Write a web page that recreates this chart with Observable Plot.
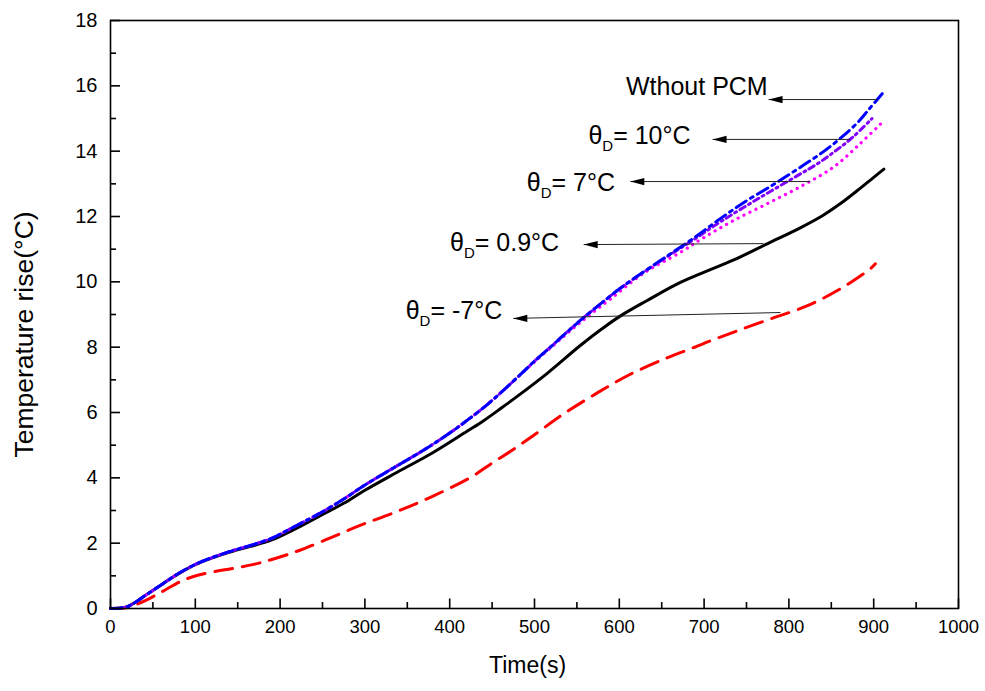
<!DOCTYPE html>
<html><head><meta charset="utf-8">
<script src="https://cdn.jsdelivr.net/npm/d3@7"></script>
<script src="https://cdn.jsdelivr.net/npm/@observablehq/plot@0.6"></script>
<style>body{margin:0;background:#fff;}</style>
</head><body><div id="chart"></div>
<script>
// ---- tick values ----
const xTicks = [0,100,200,300,400,500,600,700,800,900,1000];
const xMinor = [50,150,250,350,450,550,650,750,850,950];
const yTicks = [0,2,4,6,8,10,12,14,16,18];
const yMinor = [1,3,5,7,9,11,13,15,17];

// ---- series: Without PCM (blue dash-dot) ----
const tWithout = [0,10,20,30,40,55,70,80,100,120,145,165,190,215,250,275,300,340,370,400,420,440,460,480,500,520,540,560,580,600,630,660,690,720,750,780,800,820,840,860,880,895,910];
const vWithout = [0,0.01,0.06,0.2,0.38,0.64,0.9,1.07,1.35,1.56,1.78,1.93,2.15,2.48,2.96,3.35,3.78,4.4,4.86,5.37,5.75,6.15,6.6,7.08,7.57,8.03,8.5,8.95,9.37,9.78,10.33,10.85,11.38,11.95,12.48,12.95,13.28,13.62,13.97,14.38,14.85,15.3,15.76];
// ---- θD = 10°C (violet dash-dot-dot) ----
const tD10 = [0,10,20,30,40,55,70,80,100,120,145,165,190,215,250,275,300,340,370,400,420,440,460,480,500,520,540,560,580,600,630,660,690,720,764,810,834,854,875,898];
const vD10 = [0,0.01,0.06,0.2,0.38,0.64,0.9,1.07,1.35,1.56,1.78,1.93,2.15,2.48,2.96,3.35,3.78,4.4,4.86,5.37,5.75,6.15,6.6,7.08,7.57,8.03,8.5,8.95,9.37,9.78,10.32,10.83,11.33,11.85,12.55,13.25,13.62,13.99,14.42,15.0];
// ---- θD = 7°C (magenta dotted) ----
const tD7 = [0,10,20,30,40,55,70,80,100,120,145,165,190,215,250,275,300,340,370,400,420,440,460,480,500,520,540,560,590,629,672,700,735,775,814,853,884,910];
const vD7 = [0,0.01,0.06,0.2,0.38,0.64,0.9,1.07,1.35,1.56,1.78,1.93,2.15,2.48,2.96,3.35,3.78,4.4,4.86,5.37,5.75,6.15,6.6,7.08,7.55,8.0,8.45,8.88,9.48,10.27,10.9,11.36,11.88,12.4,12.92,13.52,14.23,14.88];
// ---- θD = 0.9°C (black solid) ----
const tD09 = [0,10,20,30,40,55,70,80,100,120,145,165,190,215,250,275,300,340,380,420,440,460,480,515,554,580,601,633,668,696,735,775,814,840,860,880,900,912];
const vD09 = [0,0.01,0.06,0.2,0.38,0.64,0.9,1.06,1.34,1.55,1.76,1.9,2.1,2.4,2.88,3.22,3.62,4.2,4.77,5.42,5.75,6.12,6.5,7.2,8.05,8.57,8.95,9.43,9.93,10.25,10.67,11.17,11.66,12.03,12.38,12.78,13.2,13.45];
// ---- θD = -7°C (red dashed) ----
const tDm7 = [0,20,30,41,59,83,98,126,145,169,185,212,230,260,295,338,381,425,450,475,500,534,574,613,657,688,708,739,780,822,861,896,902];
const vDm7 = [0,0.03,0.12,0.24,0.49,0.83,0.98,1.15,1.23,1.35,1.46,1.68,1.85,2.17,2.55,2.97,3.45,4.02,4.45,4.87,5.32,5.95,6.6,7.17,7.68,7.99,8.2,8.5,8.88,9.27,9.79,10.4,10.55];

// ---- annotations ----
const annLabels = ["Wthout PCM", "θD= 10°C", "θD= 7°C", "θD= 0.9°C", "θD= -7°C"];
const annTextT = [775, 684, 595, 529, 462];
const annTextV = [15.96, 14.45, 13.04, 11.2, 9.12];
const arrowFromT = [904, 872, 825, 770, 790];
const arrowFromV = [15.58, 14.36, 13.07, 11.17, 9.06];
const arrowToT = [776, 710, 613, 558, 475];
const arrowToV = [15.58, 14.36, 13.07, 11.14, 8.88];

const rows = (t, v) => t.map((x, i) => ({t: x, v: v[i]}));
const ann = annLabels.map((s, i) => ({s, tx: annTextT[i], ty: annTextV[i], x1: arrowFromT[i], y1: arrowFromV[i], x2: arrowToT[i], y2: arrowToV[i]}));

const W = 985, H = 691, mL = 110, mR = 27, mT = 20, mB = 83;
const plotW = W - mL - mR;

const arrowHead = {draw(ctx) { ctx.moveTo(0, 0); ctx.lineTo(14, -3.6); ctx.lineTo(14, 3.6); ctx.closePath(); }};
const tickUp = len => ({draw(ctx) { ctx.moveTo(0, 0); ctx.lineTo(0, -len); }});

const curve = "catmull-rom";
const chart = Plot.plot({
  width: W, height: H,
  marginLeft: mL, marginRight: mR, marginTop: mT, marginBottom: mB,
  x: {domain: [0, 1000]},
  y: {domain: [0, 18]},
  style: {fontFamily: "'Liberation Sans', Arial, sans-serif", background: "white", color: "black"},
  marks: [
    Plot.axisX(xTicks, {tickSize: 0, tickPadding: 11, fontSize: 18.5, label: null, tickFormat: d => String(d)}),
    Plot.axisY(yTicks, {tickSize: 0, tickPadding: 13, fontSize: 20, label: null, tickFormat: d => String(d)}),
    Plot.line(rows(tDm7, vDm7), {x: "t", y: "v", stroke: "#ff0000", strokeWidth: 3, strokeDasharray: "18,10", curve}),
    Plot.line(rows(tD09, vD09), {x: "t", y: "v", stroke: "#000000", strokeWidth: 3, curve}),
    Plot.line(rows(tD7, vD7), {x: "t", y: "v", stroke: "#ff00ff", strokeWidth: 3.2, strokeDasharray: "0.1,6.5", strokeLinecap: "round", curve}),
    Plot.line(rows(tD10, vD10), {x: "t", y: "v", stroke: "#8000ff", strokeWidth: 3, strokeDasharray: "6,4,2,4", curve}),
    Plot.line(rows(tWithout, vWithout), {x: "t", y: "v", stroke: "#0000ff", strokeWidth: 3, strokeDasharray: "12,5,3,5", curve}),
    Plot.link(ann, {x1: "x1", y1: "y1", x2: "x2", y2: "y2", stroke: "#222", strokeWidth: 1}),
    Plot.dot(ann, {x: "x2", y: "y2", symbol: arrowHead, fill: "black", stroke: null, r: 4}),
    Plot.text(ann, {x: "tx", y: "ty", text: "s", textAnchor: "end", fontSize: 25, fill: "black"}),
    Plot.text(["Time(s)"], {frameAnchor: "bottom", dx: -7, dy: 64, fontSize: 23, fill: "black"}),
    Plot.text(["Temperature rise(°C)"], {frameAnchor: "left", textAnchor: "middle", dx: -86, dy: 20, rotate: -90, fontSize: 26.5, fill: "black"}),
    Plot.frame({stroke: "black", strokeWidth: 1.6}),
    Plot.axisX(xMinor, {tickSize: -6, tickFormat: () => "", label: null, strokeWidth: 1.6}),
    Plot.dot(xTicks, {x: d => d, y: () => 0, symbol: tickUp(10), fill: "none", stroke: "black", strokeWidth: 1.6}),
    Plot.tickY(yTicks, {y: d => d, insetRight: plotW - 10, stroke: "black", strokeWidth: 1.6}),
    Plot.tickY(yMinor, {y: d => d, insetRight: plotW - 6, stroke: "black", strokeWidth: 1.6})
  ]
});

// subscript D in θD labels
const NS = "http://www.w3.org/2000/svg";
chart.querySelectorAll("text").forEach(t => {
  const s = t.textContent;
  if (s.startsWith("θD")) {
    t.textContent = "";
    const a = document.createElementNS(NS, "tspan"); a.textContent = "θ";
    const b = document.createElementNS(NS, "tspan"); b.textContent = "D"; b.setAttribute("dy", "7"); b.setAttribute("font-size", "15");
    const c = document.createElementNS(NS, "tspan"); c.textContent = s.slice(2); c.setAttribute("dy", "-7");
    t.append(a, b, c);
  }
});
document.getElementById("chart").append(chart);
</script></body></html>
